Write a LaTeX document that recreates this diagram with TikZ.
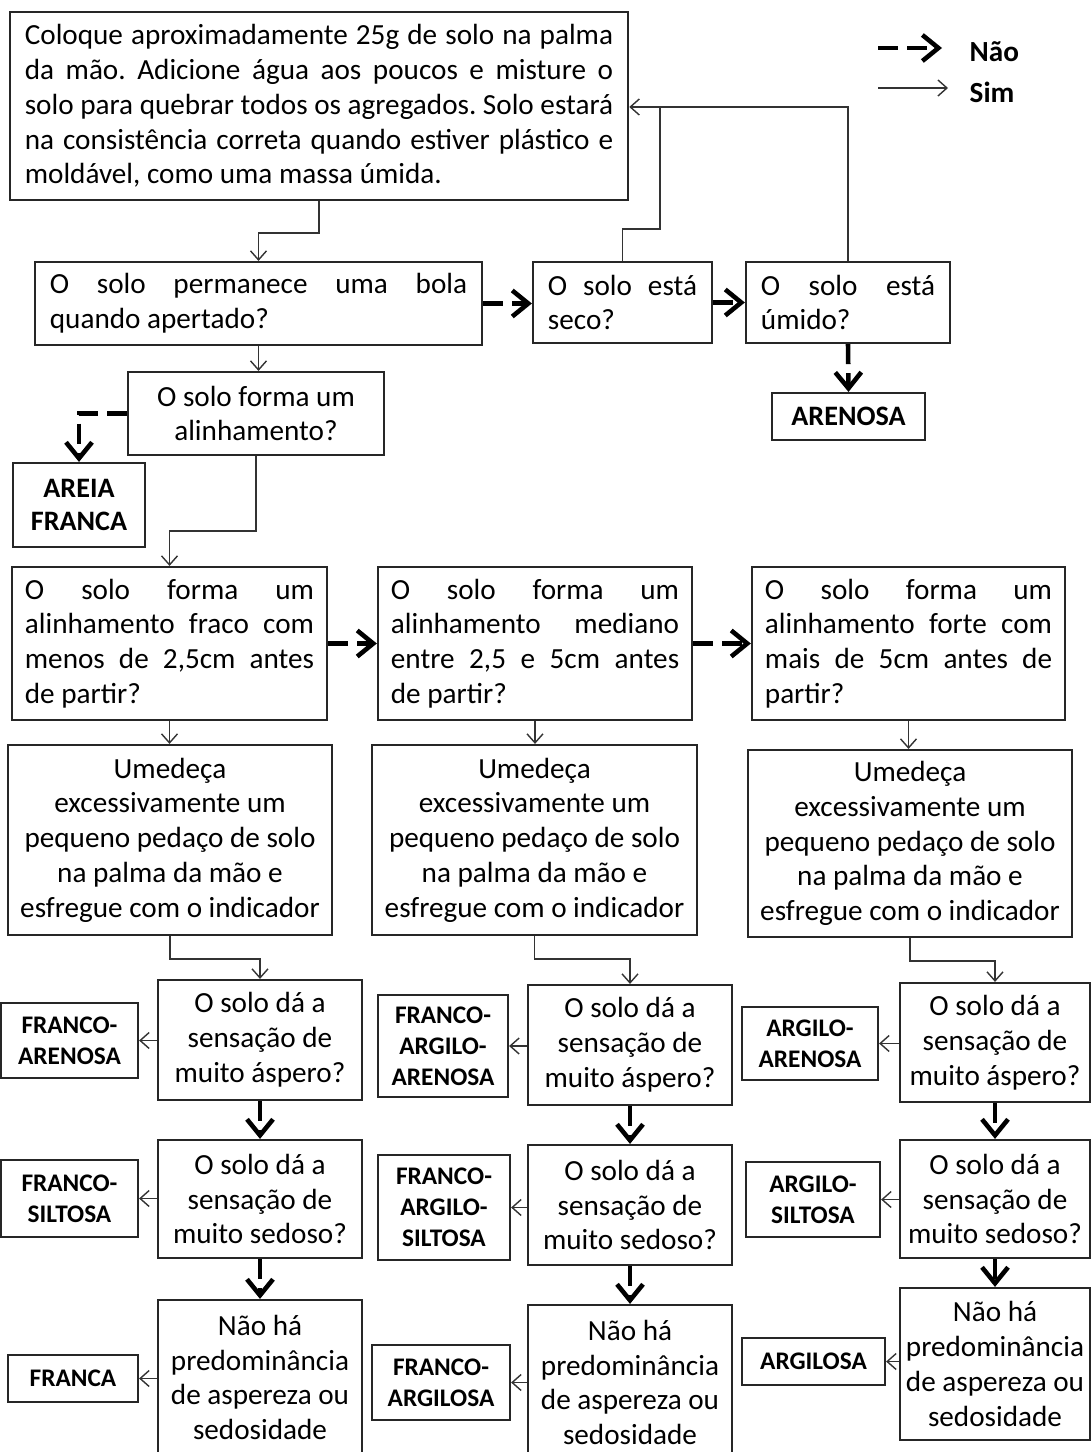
\documentclass[tikz,border=0pt]{standalone}
\usepackage{fontspec}
\setmainfont{Carlito}
\usetikzlibrary{arrows.meta}
\frenchspacing

\begin{document}
\begin{tikzpicture}[x=0.01cm, y=-0.01cm,
    box/.style={draw=black!85, line width=0.6pt, inner sep=0pt, font=\fontsize{8.3}{9.9}\selectfont},
    jbox/.style={box, align=justify},
    cbox/.style={box, align=center},
    res/.style={draw=black!85, line width=0.6pt, inner sep=0pt, align=center, font=\fontsize{7.2}{8.8}\selectfont\bfseries},
    lbl/.style={inner sep=0pt, anchor=west, font=\fontsize{8.3}{9.9}\selectfont\bfseries},
    sim/.style={draw=black!80, line width=0.4pt, -{Straight Barb[length=0.09cm, width=0.16cm]}},
    nao/.style={line width=1.3pt, dash pattern=on 0.2cm off 0.09cm, -{Straight Barb[length=0.16cm, width=0.26cm]}}]
            \useasboundingbox (0,0) rectangle (1092,1452);

            % start
            \node[jbox, minimum width=6.18cm, minimum height=1.88cm, text width=5.88cm] (intro) at (319,106)
                {Coloque aproximadamente 25g de solo na palma\linebreak da mão. Adicione água aos poucos e misture o\linebreak solo para quebrar todos os agregados. Solo estará\linebreak na consistência correta quando estiver plástico e\linebreak moldável, como uma massa úmida.};

            % legend
            \coordinate (nao0) at (878,48);
            \coordinate (nao1) at (942,48);
            \coordinate (sim0) at (878,88);
            \coordinate (sim1) at (948,88);
            \node[lbl] (naolbl) at (969,52) {Não};
            \node[lbl] (simlbl) at (969,92) {Sim};
            \draw[nao] (nao0) -- (nao1);
            \draw[sim] (sim0) -- (sim1);

            % first questions
            \node[jbox, minimum width=4.47cm, minimum height=0.83cm, text width=4.17cm] (bola) at (258.5,303.5)
                {O solo permanece uma bola\linebreak quando apertado?};
            \node[jbox, minimum width=1.79cm, minimum height=0.81cm, text width=1.49cm] (seco) at (622.5,302.5)
                {O solo está\linebreak seco?};
            \node[jbox, minimum width=2.04cm, minimum height=0.81cm, text width=1.74cm] (umido) at (848,302.5)
                {O solo está\linebreak úmido?};
            \node[res, minimum width=1.53cm, minimum height=0.47cm, font=\fontsize{8}{9.6}\selectfont\bfseries] (arenosa) at (848.5,416.5) {ARENOSA};
            \node[cbox, minimum width=2.56cm, minimum height=0.83cm] (alinha) at (256,413.5)
                {O solo forma um\\alinhamento?};
            \node[res, minimum width=1.32cm, minimum height=0.84cm, font=\fontsize{8}{9.6}\selectfont\bfseries] (areia) at (79,505) {AREIA\\FRANCA};

            % alignment
            \node[jbox, minimum width=3.15cm, minimum height=1.53cm, text width=2.89cm] (fraco) at (169.5,643.5)
                {O solo forma um\linebreak alinhamento fraco com\linebreak menos de 2,5cm antes\linebreak de partir?};
            \node[jbox, minimum width=3.14cm, minimum height=1.53cm, text width=2.88cm] (mediano) at (535,643.5)
                {O solo forma um\linebreak alinhamento mediano\linebreak entre 2,5 e 5cm antes\linebreak de partir?};
            \node[jbox, minimum width=3.13cm, minimum height=1.53cm, text width=2.87cm] (forte) at (908.5,643.5)
                {O solo forma um\linebreak alinhamento forte com\linebreak mais de 5cm antes de\linebreak partir?};

            % wet the soil
            \node[cbox, minimum width=3.24cm, minimum height=1.90cm] (umA) at (170,840)
                {Umedeça\\excessivamente um\\pequeno pedaço de solo\\na palma da mão e\\esfregue com o indicador};
            \node[cbox, minimum width=3.25cm, minimum height=1.90cm] (umB) at (534.5,840)
                {Umedeça\\excessivamente um\\pequeno pedaço de solo\\na palma da mão e\\esfregue com o indicador};
            \node[cbox, minimum width=3.24cm, minimum height=1.87cm] (umC) at (910,843.5)
                {Umedeça\\excessivamente um\\pequeno pedaço de solo\\na palma da mão e\\esfregue com o indicador};

            % texture, column A
            \node[cbox, minimum width=2.04cm, minimum height=1.20cm] (asperA) at (260,1040) {O solo dá a\\sensação de\\muito áspero?};
            \node[cbox, minimum width=2.04cm, minimum height=1.18cm] (sedosoA) at (260,1199) {O solo dá a\\sensação de\\muito sedoso?};
            \node[cbox, minimum width=2.04cm, minimum height=1.55cm] (nenhumA) at (260,1377.5) {Não há\\predominância\\de aspereza ou\\sedosidade};
            \node[res, minimum width=1.37cm, minimum height=0.75cm] (francoarenosa) at (69.5,1040.5) {FRANCO-\\ARENOSA};
            \node[res, minimum width=1.37cm, minimum height=0.77cm] (francosiltosa) at (69.5,1198.5) {FRANCO-\\SILTOSA};
            \node[res, minimum width=1.30cm, minimum height=0.47cm] (franca) at (73,1378.5) {FRANCA};

            % texture, column B
            \node[cbox, minimum width=2.04cm, minimum height=1.20cm] (asperB) at (630,1045) {O solo dá a\\sensação de\\muito áspero?};
            \node[cbox, minimum width=2.04cm, minimum height=1.20cm] (sedosoB) at (630,1205) {O solo dá a\\sensação de\\muito sedoso?};
            \node[cbox, minimum width=2.04cm, minimum height=1.55cm] (nenhumB) at (630,1382.5) {Não há\\predominância\\de aspereza ou\\sedosidade};
            \node[res, minimum width=1.30cm, minimum height=1.02cm] (francoargiloarenosa) at (443,1046) {FRANCO-\\ARGILO-\\ARENOSA};
            \node[res, minimum width=1.32cm, minimum height=1.05cm] (francoargilosiltosa) at (444,1207.5) {FRANCO-\\ARGILO-\\SILTOSA};
            \node[res, minimum width=1.38cm, minimum height=0.75cm] (francoargilosa) at (441,1382.5) {FRANCO-\\ARGILOSA};

            % texture, column C
            \node[cbox, minimum width=1.90cm, minimum height=1.19cm] (asperC) at (995,1042.5) {O solo dá a\\sensação de\\muito áspero?};
            \node[cbox, minimum width=1.90cm, minimum height=1.18cm] (sedosoC) at (995,1199) {O solo dá a\\sensação de\\muito sedoso?};
            \node[cbox, minimum width=1.90cm, minimum height=1.52cm] (nenhumC) at (995,1364) {Não há\\predominância\\de aspereza ou\\sedosidade};
            \node[res, minimum width=1.36cm, minimum height=0.73cm] (argiloarenosa) at (810,1043.5) {ARGILO-\\ARENOSA};
            \node[res, minimum width=1.34cm, minimum height=0.75cm] (argilosiltosa) at (813,1199.5) {ARGILO-\\SILTOSA};
            \node[res, minimum width=1.43cm, minimum height=0.47cm] (argilosa) at (813.5,1361.5) {ARGILOSA};

            % arrows, top part
            \coordinate (volta) at (660,107);
            \draw[sim] (intro.south) -- ++(0,32) -| (bola.north);
            \draw[nao] (bola.east) -- (bola.east -| seco.west);
            \draw[nao] (seco.east) -- (seco.east -| umido.west);
            \draw[sim] (seco.north) -- ++(0,-32) -| (volta) -- (volta -| intro.east);
            \draw[draw=black!80, line width=0.4pt] (umido.north) |- (volta);
            \draw[nao] (umido.south) -- (arenosa.north);
            \draw[sim] (bola.south) -- (bola.south |- alinha.north);
            \draw[nao] (alinha.west) -| (areia.north);
            \draw[sim] (alinha.south) -- ++(0,75) -| (fraco.north);

            % arrows, alignment
            \draw[nao] (fraco.east) -- (mediano.west);
            \draw[nao] (mediano.east) -- (forte.west);
            \draw[sim] (fraco.south) -- (fraco.south |- umA.north);
            \draw[sim] (mediano.south) -- (mediano.south |- umB.north);
            \draw[sim] (forte.south) -- (forte.south |- umC.north);
            \draw[sim] (umA.south) -- ++(0,23) -| (asperA.north);
            \draw[sim] (umB.south) -- ++(0,23) -| (asperB.north);
            \draw[sim] (umC.south) -- ++(0,23) -| (asperC.north);

            % arrows, texture
            \draw[nao] (asperA.south) -- (sedosoA.north);
            \draw[nao] (sedosoA.south) -- (nenhumA.north);
            \draw[nao] (asperB.south) -- (sedosoB.north);
            \draw[nao] (sedosoB.south) -- (nenhumB.north);
            \draw[nao] (asperC.south) -- (sedosoC.north);
            \draw[nao] (sedosoC.south) -- (nenhumC.north);
            \draw[sim] (asperA.west |- francoarenosa) -- (francoarenosa.east);
            \draw[sim] (sedosoA.west |- francosiltosa) -- (francosiltosa.east);
            \draw[sim] (nenhumA.west |- franca) -- (franca.east);
            \draw[sim] (asperB.west |- francoargiloarenosa) -- (francoargiloarenosa.east);
            \draw[sim] (sedosoB.west |- francoargilosiltosa) -- (francoargilosiltosa.east);
            \draw[sim] (nenhumB.west |- francoargilosa) -- (francoargilosa.east);
            \draw[sim] (asperC.west |- argiloarenosa) -- (argiloarenosa.east);
            \draw[sim] (sedosoC.west |- argilosiltosa) -- (argilosiltosa.east);
            \draw[sim] (nenhumC.west |- argilosa) -- (argilosa.east);
        \end{tikzpicture}
\end{document}
